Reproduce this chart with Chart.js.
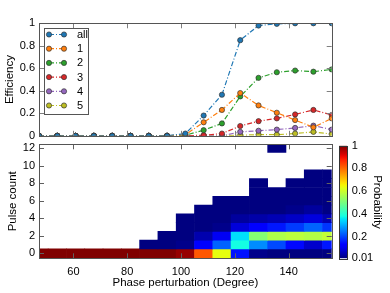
<!DOCTYPE html>
<html>
<head>
<meta charset="utf-8">
<script src="https://cdn.jsdelivr.net/npm/chart.js@4.4.1/dist/chart.umd.min.js"></script>
<style>
  html, body { margin: 0; padding: 0; background: #fff; }
  #wrap { position: relative; width: 390px; height: 293px; overflow: hidden; }
  #wrap canvas { position: absolute; left: 0; top: 0; }
</style>
</head>
<body>
<div id="wrap">
  <canvas id="eff-chart" width="390" height="293"></canvas>
  <canvas id="heat-chart" width="390" height="293"></canvas>
  <canvas id="cbar-chart" width="390" height="293"></canvas>
</div>
<script>
// x positions (degree)
const phase = [47.2, 54.0, 60.8, 67.6, 74.4, 81.2, 88.0, 94.8, 101.6, 108.4, 115.2, 122.0, 128.8, 135.6, 142.4, 149.2, 156.0];

// efficiency curves
const effAll = [0, 0, 0, 0, 0, 0, 0, 0, 0.02, 0.18, 0.365, 0.85, 0.98, 0.995, 1.0, 1.0, 1.0];
const eff1 = [0, 0, 0, 0, 0, 0, 0, 0, 0.01, 0.12, 0.23, 0.38, 0.27, 0.205, 0.14, 0.075, 0.155];
const eff2 = [0, 0, 0, 0, 0, 0, 0, 0, 0.005, 0.05, 0.11, 0.35, 0.515, 0.565, 0.58, 0.57, 0.59];
const eff3 = [0, 0, 0, 0, 0, 0, 0, 0, 0, 0.005, 0.02, 0.087, 0.13, 0.155, 0.19, 0.23, 0.185];
const eff4 = [0, 0, 0, 0, 0, 0, 0, 0, 0, 0, 0, 0.035, 0.045, 0.055, 0.07, 0.09, 0.055];
const eff5 = [0, 0, 0, 0, 0, 0, 0, 0, 0, 0, 0, 0.005, 0.01, 0.01, 0.02, 0.035, 0.015];
const seriesNames = ['all', '1', '2', '3', '4', '5'];
const seriesColors = ['#1f77b4', '#ff7f0e', '#2ca02c', '#d62728', '#9467bd', '#bcbd22'];

// pulse count probability, one array per pulse count (row 0..12)
const prob0 = [1, 1, 1, 1, 1, 1, 1, 1, 0.98, 0.82, 0.635, 0.15, 0.02, 0.01, 0.01, 0.01, 0.01];
const prob1 = [null, null, null, null, null, null, 0.01, 0.01, 0.02, 0.12, 0.23, 0.38, 0.27, 0.205, 0.14, 0.075, 0.155];
const prob2 = [null, null, null, null, null, null, null, 0.01, 0.01, 0.05, 0.11, 0.35, 0.515, 0.565, 0.58, 0.57, 0.59];
const prob3 = [null, null, null, null, null, null, null, null, 0.01, 0.01, 0.02, 0.087, 0.13, 0.155, 0.19, 0.23, 0.185];
const prob4 = [null, null, null, null, null, null, null, null, 0.01, 0.01, 0.01, 0.035, 0.045, 0.055, 0.07, 0.09, 0.055];
const prob5 = [null, null, null, null, null, null, null, null, null, 0.01, 0.01, 0.01, 0.01, 0.01, 0.02, 0.035, 0.015];
const prob6 = [null, null, null, null, null, null, null, null, null, null, 0.01, 0.01, 0.01, 0.01, 0.01, 0.01, 0.01];
const prob7 = [null, null, null, null, null, null, null, null, null, null, null, null, 0.01, 0.01, 0.01, 0.01, 0.01];
const prob8 = [null, null, null, null, null, null, null, null, null, null, null, null, 0.01, null, 0.01, 0.01, 0.01];
const prob9 = [null, null, null, null, null, null, null, null, null, null, null, null, null, null, null, 0.01, 0.01];
const prob10 = [null, null, null, null, null, null, null, null, null, null, null, null, null, null, null, null, null];
const prob11 = [null, null, null, null, null, null, null, null, null, null, null, null, null, null, null, null, null];
const prob12 = [null, null, null, null, null, null, null, null, null, null, null, null, null, 0.01, null, null, null];
const probRows = [prob0, prob1, prob2, prob3, prob4, prob5, prob6, prob7, prob8, prob9, prob10, prob11, prob12];

// tick labels
const phaseTicks = [60, 80, 100, 120, 140];
const effTicks = [0, 0.2, 0.4, 0.6, 0.8, 1];
const pulseTicks = [0, 2, 4, 6, 8, 10, 12];
const probTicks = [0.01, 0.2, 0.4, 0.6, 0.8, 1];

const FONT = "'Liberation Sans', Arial, sans-serif";
Chart.defaults.font.family = FONT;
Chart.defaults.color = '#000';

// matplotlib-style jet colormap, value range 0.01..1
const JET = {
  r: [[0, 0], [0.35, 0], [0.66, 1], [0.89, 1], [1, 0.5]],
  g: [[0, 0], [0.125, 0], [0.375, 1], [0.64, 1], [0.91, 0], [1, 0]],
  b: [[0, 0.5], [0.11, 1], [0.34, 1], [0.65, 0], [1, 0]]
};
function seg(pts, t) {
  for (let i = 1; i < pts.length; i++) {
    if (t <= pts[i][0]) {
      const [x0, y0] = pts[i - 1], [x1, y1] = pts[i];
      return y0 + (y1 - y0) * (t - x0) / (x1 - x0);
    }
  }
  return pts[pts.length - 1][1];
}
function jet(v) {
  const t = Math.min(1, Math.max(0, (v - 0.01) / 0.99));
  const c = k => Math.round(255 * seg(JET[k], t));
  return `rgb(${c('r')},${c('g')},${c('b')})`;
}

// frame + inward tick marks
const frameTicks = {
  id: 'frameTicks',
  afterDatasetsDraw(chart, args, opts) {
    const { ctx, chartArea: a } = chart;
    ctx.save();
    ctx.lineWidth = 1;
    ctx.strokeStyle = opts.tickColor || '#808080';
    ctx.beginPath();
    (opts.axes || []).forEach(id => {
      const s = chart.scales[id];
      s.ticks.forEach(t => {
        const p = Math.round(s.getPixelForValue(t.value)) + 0.5;
        if (s.isHorizontal()) {
          ctx.moveTo(p, a.top); ctx.lineTo(p, a.top + 5);
          ctx.moveTo(p, a.bottom); ctx.lineTo(p, a.bottom - 5);
        } else {
          ctx.moveTo(a.left, p); ctx.lineTo(a.left + 5, p);
          ctx.moveTo(a.right, p); ctx.lineTo(a.right - 5, p);
        }
      });
    });
    ctx.stroke();
    ctx.strokeStyle = opts.frameColor || '#555';
    ctx.strokeRect(Math.round(a.left) + 0.5, Math.round(a.top) + 0.5,
      Math.round(a.right - a.left), Math.round(a.bottom - a.top));
    ctx.restore();
  }
};

// legend box in the upper left of the efficiency panel
const effLegend = {
  id: 'effLegend',
  afterDraw(chart) {
    const { ctx } = chart;
    ctx.save();
    ctx.fillStyle = '#fff';
    ctx.fillRect(44, 28, 45, 86);
    ctx.strokeStyle = '#555';
    ctx.lineWidth = 1;
    ctx.strokeRect(44.5, 28.5, 44, 86);
    chart.data.datasets.forEach((ds, k) => {
      const y = 34.5 + k * 14.2;
      ctx.strokeStyle = ds.borderColor;
      ctx.lineWidth = ds.borderWidth;
      ctx.setLineDash(ds.borderDash);
      ctx.beginPath(); ctx.moveTo(49, y); ctx.lineTo(64, y); ctx.stroke();
      ctx.setLineDash([]);
      [49, 64].forEach(x => {
        ctx.beginPath(); ctx.arc(x, y, ds.pointRadius, 0, Math.PI * 2);
        ctx.fillStyle = ds.backgroundColor; ctx.fill();
        ctx.lineWidth = ds.pointBorderWidth; ctx.strokeStyle = ds.pointBorderColor; ctx.stroke();
      });
      ctx.fillStyle = '#000';
      ctx.font = `11px ${FONT}`;
      ctx.textBaseline = 'middle';
      ctx.fillText(ds.label, 77, y + 0.5);
    });
    ctx.restore();
  }
};

const tickFont = { family: FONT, size: 11 };
const titleFont = { family: FONT, size: 11.5 };
const fmt = v => String(v);

function renderEfficiency() {
  const series = [effAll, eff1, eff2, eff3, eff4, eff5];
  new Chart(document.getElementById('eff-chart'), {
    type: 'line',
    data: {
      datasets: series.map((s, k) => ({
        label: seriesNames[k],
        data: phase.map((x, i) => ({ x, y: s[i] })),
        borderColor: seriesColors[k],
        backgroundColor: seriesColors[k],
        borderWidth: 1.2,
        borderDash: [5, 2, 1, 2],
        pointRadius: 2.6,
        pointBorderColor: '#333',
        pointBorderWidth: 0.7,
        tension: 0
      }))
    },
    options: {
      responsive: false,
      animation: false,
      events: [],
      layout: { padding: { top: 23.3, right: 58.3, bottom: 157.2, left: 0 } },
      plugins: {
        legend: { display: false },
        tooltip: { enabled: false },
        frameTicks: { axes: ['x', 'y'] }
      },
      scales: {
        x: {
          type: 'linear', min: 47.2, max: 156,
          afterBuildTicks: s => { s.ticks = phaseTicks.map(value => ({ value })); },
          afterFit: s => { s.height = 0; },
          ticks: { display: false },
          grid: { display: false, drawTicks: false },
          border: { display: false }
        },
        y: {
          min: 0, max: 1,
          afterBuildTicks: s => { s.ticks = effTicks.map(value => ({ value })); },
          afterFit: s => { s.width = 39; },
          ticks: { font: tickFont, padding: 4, callback: fmt },
          grid: { display: false, drawTicks: false },
          border: { display: false },
          title: { display: true, text: 'Efficiency', font: titleFont, padding: { top: 3, bottom: 0 } }
        }
      }
    },
    plugins: [frameTicks, effLegend]
  });
}

function renderHeatmap() {
  const cells = [];
  probRows.forEach((row, r) => row.forEach((v, i) => {
    if (v !== null) cells.push({ x: phase[i], y: [r - 0.5, r + 0.5], v });
  }));
  new Chart(document.getElementById('heat-chart'), {
    type: 'bar',
    data: {
      datasets: [{
        data: cells,
        backgroundColor: c => (c.raw ? jet(c.raw.v) : '#000080'),
        borderWidth: 0,
        barPercentage: 1,
        categoryPercentage: 1
      }]
    },
    options: {
      responsive: false,
      animation: false,
      events: [],
      layout: { padding: { top: 144.3, right: 58.3, bottom: 0, left: 0 } },
      plugins: {
        legend: { display: false },
        tooltip: { enabled: false },
        frameTicks: { axes: ['x', 'y'], tickColor: '#606060' }
      },
      scales: {
        x: {
          type: 'linear', min: 47.2, max: 156, offset: false,
          afterBuildTicks: s => { s.ticks = phaseTicks.map(value => ({ value })); },
          afterFit: s => { s.height = 34.7; },
          ticks: { font: tickFont, padding: 7, callback: fmt, maxRotation: 0 },
          grid: { display: false, drawTicks: false },
          border: { display: false },
          title: { display: true, text: 'Phase perturbation (Degree)', font: titleFont, padding: { top: 0, bottom: 3 } }
        },
        y: {
          type: 'linear', min: -0.57, max: 12.42,
          afterBuildTicks: s => { s.ticks = pulseTicks.map(value => ({ value })); },
          afterFit: s => { s.width = 39; },
          ticks: { font: tickFont, padding: 4, callback: fmt },
          grid: { display: false, drawTicks: false },
          border: { display: false },
          title: { display: true, text: 'Pulse count', font: titleFont, padding: { top: 5.5, bottom: 0 } }
        }
      }
    },
    plugins: [frameTicks]
  });
}

function renderColorbar() {
  new Chart(document.getElementById('cbar-chart'), {
    type: 'bar',
    data: {
      labels: ['p'],
      datasets: [{
        data: [[probTicks[0], probTicks[probTicks.length - 1]]],
        backgroundColor: c => {
          const a = c.chart.chartArea;
          if (!a) return '#000080';
          const g = c.chart.ctx.createLinearGradient(0, a.bottom, 0, a.top);
          for (let k = 0; k <= 40; k++) g.addColorStop(k / 40, jet(0.01 + 0.99 * k / 40));
          return g;
        },
        borderWidth: 0,
        barPercentage: 1,
        categoryPercentage: 1
      }]
    },
    options: {
      responsive: false,
      animation: false,
      events: [],
      layout: { padding: { top: 145.7, right: 0, bottom: 34.7, left: 339.3 } },
      plugins: {
        legend: { display: false },
        tooltip: { enabled: false },
        frameTicks: { axes: [], frameColor: '#333' }
      },
      scales: {
        x: { display: false },
        y: {
          position: 'right', min: 0.01, max: 1,
          afterBuildTicks: s => { s.ticks = probTicks.map(value => ({ value })); },
          afterFit: s => { s.width = 42.7; },
          ticks: { font: tickFont, padding: 4.5, callback: fmt },
          grid: { display: false, drawTicks: false },
          border: { display: false },
          title: { display: true, text: 'Probability', font: titleFont, padding: { top: 6, bottom: 0 } }
        }
      }
    },
    plugins: [frameTicks]
  });
}

renderEfficiency();
renderHeatmap();
renderColorbar();
</script>
</body>
</html>
